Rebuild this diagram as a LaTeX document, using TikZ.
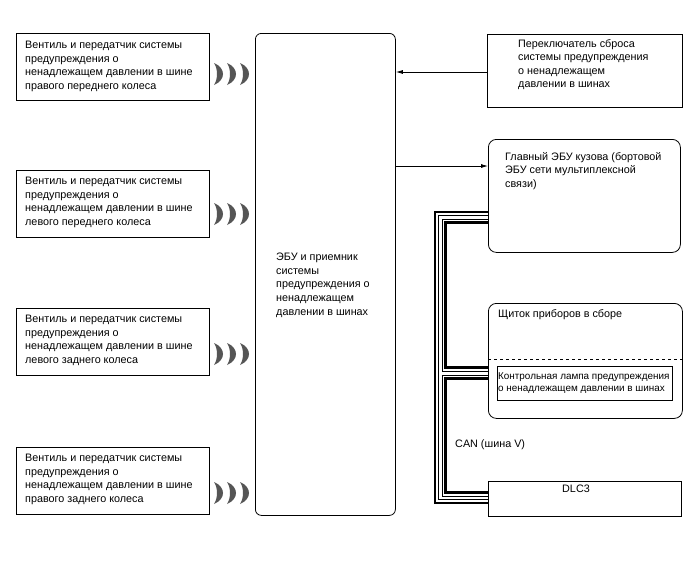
\documentclass[tikz,border=0pt]{standalone}
\usepackage{fontspec}
\setmainfont{Liberation Sans}
\usetikzlibrary{arrows.meta}
\definecolor{wavegray}{HTML}{555555}
\newcommand\mycrescent[2]{\fill[wavegray] (#1,#2-11) .. controls (#1+12,#2-6) and (#1+12,#2+6) .. (#1,#2+11) .. controls (#1+4,#2+5) and (#1+4,#2-5) .. cycle;}
\tikzset{
  box/.style={draw, line width=0.8pt, inner sep=0pt, anchor=north west},
  rbox/.style={box, rounded corners=6pt},
  txt/.style={inner sep=0pt, anchor=north west, align=left, font=\fontsize{10.8}{13.6}\selectfont},
  smalltxt/.style={inner sep=0pt, anchor=north west, align=left, font=\fontsize{9.9}{12}\selectfont},
  conn/.style={line width=0.8pt, -{Latex[length=7pt,width=4pt]}},
  bthick/.style={line width=2.6pt},
  bthin/.style={line width=1pt}
}
\begin{document}
\begin{tikzpicture}[x=1pt,y=-1pt]
\useasboundingbox[fill=white] (0,0) rectangle (688,560);
% left transmitter boxes
\node[box, minimum width=193pt, minimum height=67pt] (w1) at (16,33) {};
\node[txt] (w1t) at (25,41) {Вентиль и передатчик системы\\предупреждения о\\ненадлежащем давлении в шине\\правого переднего колеса};
\node[box, minimum width=193pt, minimum height=67pt] (w2) at (16,170) {};
\node[txt] (w2t) at (25,177) {Вентиль и передатчик системы\\предупреждения о\\ненадлежащем давлении в шине\\левого переднего колеса};
\node[box, minimum width=193pt, minimum height=67pt] (w3) at (16,308) {};
\node[txt] (w3t) at (25,315) {Вентиль и передатчик системы\\предупреждения о\\ненадлежащем давлении в шине\\левого заднего колеса};
\node[box, minimum width=193pt, minimum height=67pt] (w4) at (16,447) {};
\node[txt] (w4t) at (25,454) {Вентиль и передатчик системы\\предупреждения о\\ненадлежащем давлении в шине\\правого заднего колеса};
% radio waves
\foreach \yy in {74,214,354,493}{
  \mycrescent{214}{\yy}
  \mycrescent{227}{\yy}
  \mycrescent{240}{\yy}
}
% central ECU
\node[rbox, minimum width=140pt, minimum height=482pt] (ecu) at (255,33) {};
\node[txt] (ecut) at (276,253) {ЭБУ и приемник\\системы\\предупреждения о\\ненадлежащем\\давлении в шинах};
% reset switch
\node[box, minimum width=195pt, minimum height=73pt] (sw) at (487,34) {};
\node[txt] (swt) at (518,39) {Переключатель сброса\\системы предупреждения\\о ненадлежащем\\давлении в шинах};
% body ECU
\node[rbox, rounded corners=8pt, minimum width=192pt, minimum height=113pt] (be) at (488,139) {};
\node[txt] (bet) at (505,152) {Главный ЭБУ кузова (бортовой\\ЭБУ сети мультиплексной\\связи)};
% meter
\node[rbox, rounded corners=8pt, minimum width=194pt, minimum height=115pt] (me) at (488,303) {};
\node[txt] (met) at (498,309) {Щиток приборов в сборе};
\draw[dashed, line width=0.8pt] (me.west |- 0,359) -- (me.east |- 0,359);
\node[box, minimum width=175pt, minimum height=34pt] (lamp) at (497,366) {};
\node[smalltxt] (lampt) at (498,372) {Контрольная лампа предупреждения\\о ненадлежащем давлении в шинах};
% DLC3
\node[box, minimum width=193pt, minimum height=35pt] (dlc) at (488,481) {};
\node[txt, anchor=north] (dlct) at (576,485) {DLC3};
% CAN label
\node[txt] (can) at (455,439) {CAN (шина V)};
% arrows
\draw[conn] (sw.west |- 0,72) -- (ecu.east |- 0,72);
\draw[conn] (ecu.east |- 0,166) -- (be.west |- 0,166);
% CAN bus bundle
\draw[bthick] (be.west |- 0,212) -- (435,212) -- (435,503) -- (dlc.west |- 0,503);
\draw[bthin] (be.west |- 0,215.5) -- (438.5,215.5) -- (438.5,499.5) -- (dlc.west |- 0,499.5);
\draw[bthin] (be.west |- 0,219) -- (442,219) -- (442,371) -- (me.west |- 0,371);
\draw[bthin] (me.west |- 0,375) -- (442,375) -- (442,496) -- (dlc.west |- 0,496);
\draw[bthick] (be.west |- 0,222.5) -- (445.5,222.5) -- (445.5,367.5) -- (me.west |- 0,367.5);
\draw[bthick] (me.west |- 0,378.5) -- (445.5,378.5) -- (445.5,492.5) -- (dlc.west |- 0,492.5);
\end{tikzpicture}
\end{document}
